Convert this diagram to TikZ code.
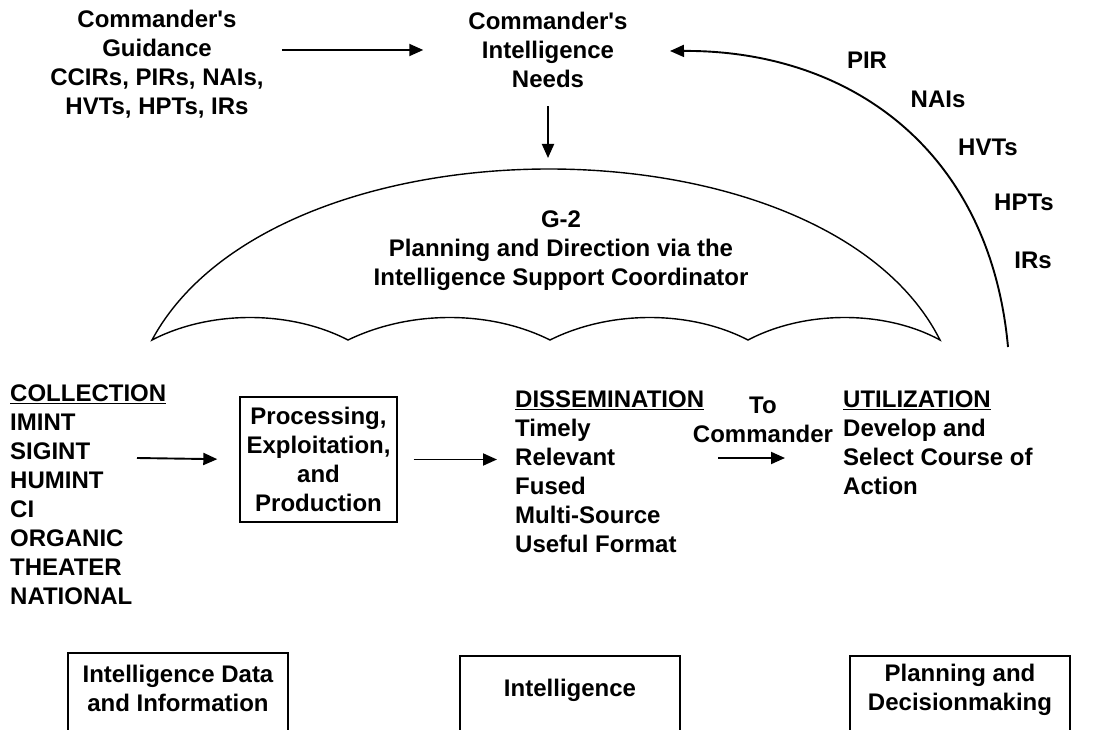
\documentclass[tikz,border=0pt]{standalone}
\usepackage{fontspec}
\setmainfont{Liberation Sans}
\usetikzlibrary{arrows.meta}

\begin{document}
\begin{tikzpicture}[x=1pt,y=-1pt,
    txt/.style={font=\bfseries\fontsize{24}{29}\selectfont, inner sep=0pt},
    flow/.style={-{Triangle[length=14pt,width=12pt]}, line width=1.9pt},
    frame/.style={line width=1.4pt}]
    \useasboundingbox (0,0) rectangle (1108,730);
    \clip (0,0) rectangle (1108,730);

    % top row
    \node[txt, align=center] (guide) at (157,64) {Commander\textquotesingle s\\Guidance\\CCIRs, PIRs, NAIs,\\HVTs, HPTs, IRs};
    \node[txt, align=center] (needs) at (548,50) {Commander\textquotesingle s\\Intelligence\\Needs};
    \draw[flow, shorten <=18pt, shorten >=45pt] (guide.east |- needs.west) -- (needs.west);

    % umbrella
    \coordinate (dome) at (548,158);
    \draw[flow, shorten <=18pt] (needs.south) -- (dome);
    \draw[frame] (152,340) .. controls (275,112) and (825,112) .. (940,340)
        .. controls (885,310) and (805,310) .. (748,340)
        .. controls (690,310) and (610,310) .. (550,340)
        .. controls (490,310) and (410,310) .. (348,340)
        .. controls (290,310) and (210,310) .. (152,340) -- cycle;
    \node[txt, align=center] (gtwo) at (561,251) {G-2\\Planning and Direction via the\\Intelligence Support Coordinator};

    % feedback arc
    \coordinate (foot) at (1008,347);
    \coordinate (tip) at (670,51);
    \draw[flow] (foot) .. controls (990,150) and (850,50) .. (tip);
    \foreach \lab/\x/\y [count=\i] in {PIR/867/60, NAIs/938/99, HVTs/988/147, HPTs/1024/202, IRs/1033/260}
        \node[txt] (arc\i) at (\x,\y) {\lab};

    % middle row
    \node[txt, align=left, anchor=west] (collect) at (10,495) {\underline{COLLECTION}\\IMINT\\SIGINT\\HUMINT\\CI\\ORGANIC\\THEATER\\NATIONAL};
    \node[txt, draw, line width=1.4pt, align=center, minimum width=157pt, minimum height=125pt] (proc) at (318.5,459.5) {Processing,\\Exploitation,\\and\\Production};
    \coordinate (cstart) at (137,458);
    \draw[flow, shorten >=22pt] (cstart) -- (proc.west);
    \node[txt, align=left, anchor=west] (dissem) at (515,472) {\underline{DISSEMINATION}\\Timely\\Relevant\\Fused\\Multi-Source\\Useful Format};
    \draw[flow, shorten <=16pt, shorten >=18pt] (proc.east) -- (proc.east -| dissem.west);
    \node[txt, align=center] (tocmd) at (763,420) {To\\Commander};
    \coordinate (tfrom) at (718,458);
    \coordinate (tto) at (785,458);
    \draw[flow] (tfrom) -- (tto);
    \node[txt, align=left, anchor=west] (util) at (843,443) {\underline{UTILIZATION}\\Develop and\\Select Course of\\Action};

    % bottom boxes
    \draw[frame] (68,760) |- (288,653) -- (288,760);
    \node[txt, align=center] (data) at (178,688) {Intelligence Data\\and Information};
    \draw[frame] (460,760) |- (680,656) -- (680,760);
    \node[txt] (intel) at (570,690) {Intelligence};
    \draw[frame] (850,760) |- (1070,656) -- (1070,760);
    \node[txt, align=center] (plan) at (960,690) {Planning and\\Decisionmaking};
\end{tikzpicture}
\end{document}
